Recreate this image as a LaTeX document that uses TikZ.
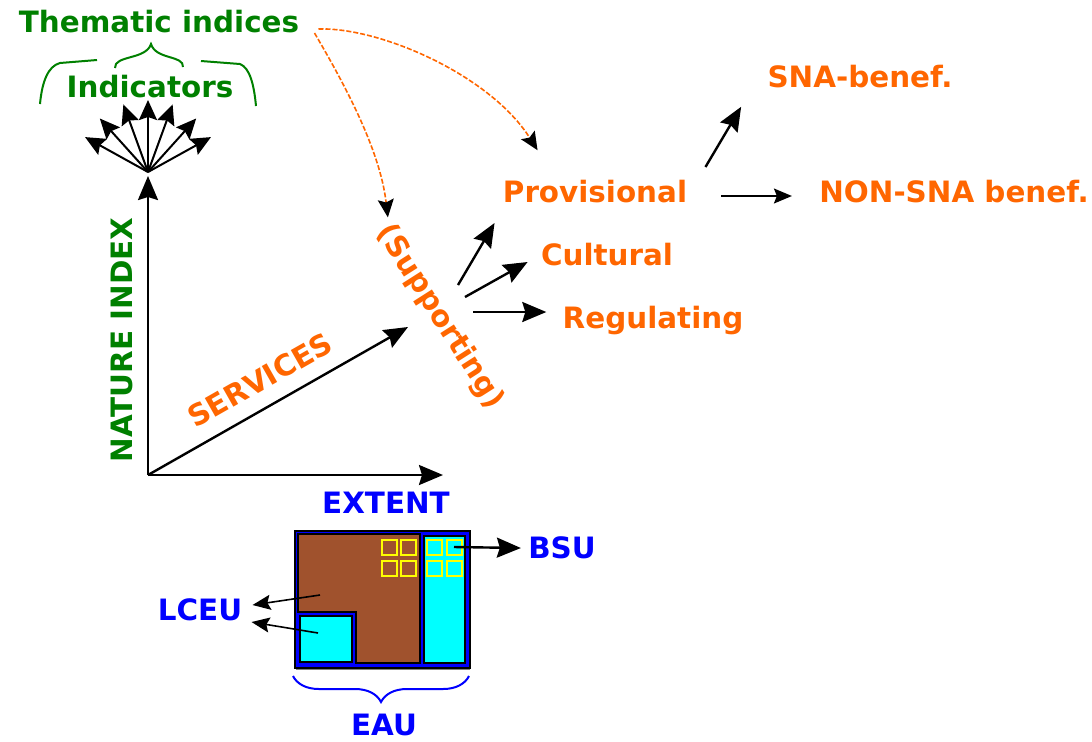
\documentclass[tikz,border=0pt]{standalone}
\usepackage{fontspec}
\setmainfont{DejaVu Sans}
\usetikzlibrary{arrows.meta,positioning,calc,decorations.pathreplacing}
\definecolor{leaf}{HTML}{008000}
\definecolor{ochre}{HTML}{FF6600}
\definecolor{ink}{HTML}{0000FF}
\definecolor{soil}{HTML}{A0522D}
\definecolor{aqua}{HTML}{00FFFF}
\definecolor{lemon}{HTML}{FFFF00}
\tikzset{
  lbl/.style  ={font=\bfseries\fontsize{14.7}{17}\selectfont,inner sep=0pt},
  nat/.style  ={lbl,text=leaf},
  eco/.style  ={lbl,text=ochre},
  geo/.style  ={lbl,text=ink},
  arw/.style  ={-{Stealth[length=12pt,width=10pt,inset=1.5pt]},line width=1.2pt,black},
  fanarw/.style={-{Stealth[length=10pt,width=9pt,inset=1.5pt]},line width=1pt,black},
  thin/.style ={-{Stealth[length=9pt,width=7.5pt,inset=1.5pt]},line width=.8pt,black},
  dsh/.style  ={-{Stealth[length=9pt,width=8pt,inset=1.5pt,color=black]},line width=.8pt,
                ochre,dash pattern=on 2.5pt off 1pt},
  cell/.style ={draw=lemon,line width=1pt,minimum size=7.5pt,inner sep=0pt},
  brc/.style  ={line width=1pt},
}
\begin{document}
\begin{tikzpicture}[x=0.5pt,y=-0.5pt]
  \useasboundingbox (0,0) rectangle (1092,741);

  % indicators and thematic indices
  \node[nat] (them) at (159,22) {Thematic indices};
  \node[nat] (ind) at (150,87) {Indicators};
  \draw[brc,leaf] (40,104) .. controls (42,82) and (48,66) .. (60,63) -- (97,60);
  \draw[brc,leaf] (115,68) .. controls (114,55) and (146,60) .. (151,44)
                           .. controls (156,60) and (184,55) .. (183,67);
  \draw[brc,leaf] (201,61) -- (240,64) .. controls (250,68) and (254,85) .. (256,106);
  \coordinate (fan) at (148,172);
  \foreach \ang in {29,48,70,90,110,132,151}
    \draw[fanarw] (fan) -- ++(-\ang:72);

  % axes
  \coordinate (o) at (148,475);
  \coordinate (ext) at (443,475);
  \coordinate (srv) at (408,327);
  \draw[arw,shorten >=2pt] (o) -- (fan);
  \draw[arw] (o) -- (ext);
  \draw[arw] (o) -- (srv);
  \node[nat,rotate=90] (ni) at (122,340) {NATURE INDEX};
  \node[eco,rotate=29.6] (serv) at (260,380) {SERVICES};

  % services
  \node[eco,rotate=-57.5] (sup) at (440,317) {(Supporting)};
  \node[eco] (prov) at (595,192) {Provisional};
  \node[eco] (cult) at (607,255) {Cultural};
  \node[eco] (reg) at (653,320) {Regulating};
  \node[eco] (sna) at (860,77) {SNA-benef.};
  \node[eco] (non) at (954,192) {NON-SNA benef.};
  \draw[dsh] ($(them.east)+(15,11)$) .. controls (345,85) and (380,150) .. ($(sup.west)+(5,-10)$);
  \draw[dsh] ($(them.east)+(19,7)$) .. controls (380,27) and (490,75) .. ($(prov.north west)+(35,-30)$);
  \draw[arw] ($(sup)+(18,-32)$) -- ($(prov.west)+(-8,31)$);
  \draw[arw] ($(sup)+(25,-20)$) -- ($(cult.west)+(-13,7)$);
  \draw[arw] ($(sup)+(33,-5)$) -- ($(reg.west)+(-16,-8)$);
  \draw[arw] ($(prov.east)+(18,-25)$) -- ($(sna.south west)+(-26,18)$);
  \draw[thin] ($(prov.east)+(34,4)$) -- ($(non.west)+(-27,4)$);

  % extent
  \node[geo] (extent) at (386,503) {EXTENT};
  \draw[line width=1pt,gray] (296,669) -- (470,669);
  \draw[line width=1pt,fill=ink] (295,531) rectangle (470,668);
  \draw[line width=1pt,fill=soil] (298,534) -- (420,534) -- (420,663) -- (356,663)
       -- (356,612) -- (298,612) -- cycle;
  \draw[line width=1pt,fill=aqua] (300,616) rectangle (352,662);
  \draw[line width=1pt,fill=aqua] (424,536) rectangle (465,663);
  \foreach \x/\y/\n in {389/547/1,408/547/2,389/568/3,408/568/4,
                        434.5/547/5,454/547/6,434.5/568/7,454/568/8}
    \node[cell] (c\n) at (\x,\y) {};
  \coordinate (lsoil) at (320,595);
  \coordinate (laqua) at (318,633);
  \node[geo] (bsu) at (562,548) {BSU};
  \node[geo] (lceu) at (200,610) {LCEU};
  \node[geo] (eau) at (384,725) {EAU};
  \draw[arw] (c6.center) -- ($(bsu.west)+(-7,0)$);
  \draw[thin] (lsoil) -- ($(lceu.east)+(10,-5)$);
  \draw[thin] (laqua) -- ($(lceu.east)+(9,12)$);
  \draw[brc,ink,decorate,decoration={brace,amplitude=13pt}] (469,676) -- (293,676);
\end{tikzpicture}
\end{document}
